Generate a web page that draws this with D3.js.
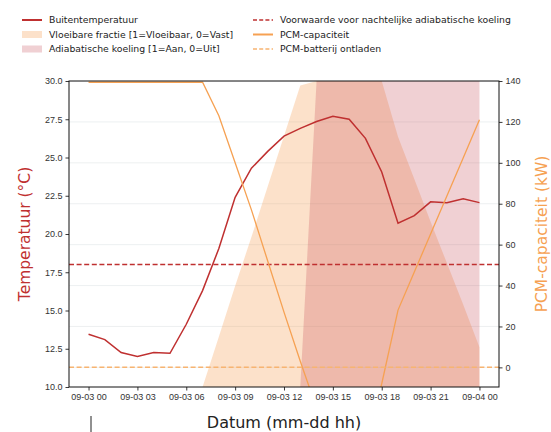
<!DOCTYPE html>
<html>
<head>
<meta charset="utf-8">
<script src="https://cdn.jsdelivr.net/npm/d3@7"></script>
<style>
  body { margin: 0; background: #fff; }
  svg { font-family: "DejaVu Sans", sans-serif; }
</style>
</head>
<body>
<svg class="chart"></svg>
<script>
// hourly data, 09-03 00 .. 09-04 00
var hours = d3.range(0, 25)
var temp = [13.45, 13.1, 12.25, 12.0, 12.25, 12.2, 14.1, 16.3, 19.05, 22.4, 24.3, 25.4, 26.4,
            26.9, 27.35, 27.7, 27.5, 26.25, 24.05, 20.7, 21.2, 22.1, 22.05, 22.3, 22.05]
var pcm = [139.4, 139.4, 139.4, 139.4, 139.4, 139.4, 139.4, 139.4, 123, 100, 77, 52, 27,
           3, -20, -40, -40, -40, -8, 28, 46.6, 65.2, 83.8, 102.4, 121]
var liquid = [0, 0, 0, 0, 0, 0, 0, 0, 0.164, 0.33, 0.49, 0.655, 0.82,
              0.985, 1, 1, 1, 1, 1, 0.818, 0.68, 0.54, 0.405, 0.27, 0.13]
var adiabatic = [0, 0, 0, 0, 0, 0, 0, 0, 0, 0, 0, 0, 0,
                 0, 1, 1, 1, 1, 1, 1, 1, 1, 1, 1, 1]
var tempLimit = 18
var pcmEmpty = 0
var xTicks = [0, 3, 6, 9, 12, 15, 18, 21, 24]
var xTickLabels = ["09-03 00", "09-03 03", "09-03 06", "09-03 09", "09-03 12",
                   "09-03 15", "09-03 18", "09-03 21", "09-04 00"]
var leftTicks = [10, 12.5, 15, 17.5, 20, 22.5, 25, 27.5, 30]
var rightTicks = [0, 20, 40, 60, 80, 100, 120, 140]

var red = "#bf3030", orange = "#f6a152"

var margin = {top: 81, right: 52, bottom: 45, left: 69},
    width  = 551 - margin.left - margin.right,
    height = 432 - margin.top - margin.bottom

var chart = d3.select(".chart").attr("width", 551).attr("height", 432)

var x  = d3.scaleLinear().domain([-1.2, 25.2]).range([0, width])
var yL = d3.scaleLinear().domain([10, 30]).range([height, 0])
var yR = d3.scaleLinear().domain([-9.6, 140]).range([height, 0])
var yF = d3.scaleLinear().domain([0, 1]).range([height, 0])

chart.append("defs").append("clipPath").attr("id", "clip")
  .append("rect").attr("width", width).attr("height", height)

var g = chart.append("g").attr("transform", "translate(" + margin.left + "," + margin.top + ")")
var plot = g.append("g").attr("clip-path", "url(#clip)")

// grid on right-axis ticks
plot.selectAll(".grid").data(rightTicks).enter().append("line")
  .attr("x1", 0).attr("x2", width)
  .attr("y1", function(d) { return yR(d) }).attr("y2", function(d) { return yR(d) })
  .attr("stroke", "#e9ecee").attr("stroke-width", 0.8)

// filled areas
plot.append("path").datum(hours)
  .attr("fill", "#f5a15a").attr("fill-opacity", 0.32)
  .attr("d", d3.area().x(function(d) { return x(d) })
    .y0(yF(0)).y1(function(d, i) { return yF(liquid[i]) }))

plot.append("path").datum(hours)
  .attr("fill", "#c4424f").attr("fill-opacity", 0.25)
  .attr("d", d3.area().x(function(d) { return x(d) })
    .y0(yF(0)).y1(function(d, i) { return yF(adiabatic[i]) }))

// temperature
plot.append("path").datum(hours)
  .attr("fill", "none").attr("stroke", red).attr("stroke-width", 1.5)
  .attr("d", d3.line().x(function(d) { return x(d) }).y(function(d, i) { return yL(temp[i]) }))

plot.append("line")
  .attr("x1", 0).attr("x2", width).attr("y1", yL(tempLimit)).attr("y2", yL(tempLimit))
  .attr("stroke", red).attr("stroke-width", 1.5).attr("stroke-dasharray", "5,2.6")

// pcm
plot.append("path").datum(hours)
  .attr("fill", "none").attr("stroke", orange).attr("stroke-width", 1.3)
  .attr("d", d3.line().x(function(d) { return x(d) }).y(function(d, i) { return yR(pcm[i]) }))

plot.append("line")
  .attr("x1", 0).attr("x2", width).attr("y1", yR(pcmEmpty)).attr("y2", yR(pcmEmpty))
  .attr("stroke", "#f7b471").attr("stroke-width", 1.5).attr("stroke-dasharray", "5,2.6")

// axes
function styleAxis(sel) {
  sel.select(".domain").remove()
  sel.selectAll(".tick line").attr("stroke", "#222").attr("stroke-width", 0.9)
  sel.selectAll(".tick text").attr("fill", "#333").style("font-size", "9px")
}

g.append("g").attr("transform", "translate(0," + height + ")")
  .call(d3.axisBottom(x).tickValues(xTicks).tickSize(3.5).tickPadding(3)
    .tickFormat(function(d, i) { return xTickLabels[i] }))
  .call(styleAxis)

g.append("g")
  .call(d3.axisLeft(yL).tickValues(leftTicks).tickSize(3.5).tickPadding(3).tickFormat(d3.format(".1f")))
  .call(styleAxis)

g.append("g").attr("transform", "translate(" + width + ",0)")
  .call(d3.axisRight(yR).tickValues(rightTicks).tickSize(3.5).tickPadding(3).tickFormat(d3.format("d")))
  .call(styleAxis)

g.append("rect").attr("width", width).attr("height", height)
  .attr("fill", "none").attr("stroke", "#111").attr("stroke-width", 1)

// axis titles
g.append("text").attr("transform", "translate(-39," + (height / 2) + ") rotate(-90)")
  .attr("text-anchor", "middle").attr("fill", red).style("font-size", "15.5px")
  .text("Temperatuur (°C)")

g.append("text").attr("transform", "translate(" + (width + 48) + "," + (height / 2) + ") rotate(-90)")
  .attr("text-anchor", "middle").attr("fill", orange).style("font-size", "15.5px")
  .text("PCM-capaciteit (kW)")

g.append("text").attr("x", width / 2).attr("y", height + 41)
  .attr("text-anchor", "middle").attr("fill", "#222").style("font-size", "16px")
  .text("Datum (mm-dd hh)")

chart.append("line").attr("x1", 91).attr("x2", 91).attr("y1", 416).attr("y2", 432)
  .attr("stroke", "#222").attr("stroke-width", 1)

// legend
var legendItems = [
  {label: "Buitentemperatuur", type: "line", color: red, col: 0, row: 0},
  {label: "Vloeibare fractie [1=Vloeibaar, 0=Vast]", type: "patch", color: "#f5a15a", op: 0.32, col: 0, row: 1},
  {label: "Adiabatische koeling [1=Aan, 0=Uit]", type: "patch", color: "#c4424f", op: 0.25, col: 0, row: 2},
  {label: "Voorwaarde voor nachtelijke adiabatische koeling", type: "dash", color: red, col: 1, row: 0},
  {label: "PCM-capaciteit", type: "line", color: orange, col: 1, row: 1},
  {label: "PCM-batterij ontladen", type: "dash", color: "#f7b471", col: 1, row: 2}
]
var colX = [22, 253], rowY = [20, 34.5, 49]

var item = chart.selectAll(".legend").data(legendItems).enter().append("g")
  .attr("transform", function(d) { return "translate(" + colX[d.col] + "," + rowY[d.row] + ")" })

item.each(function(d) {
  var s = d3.select(this)
  if (d.type == "patch") {
    s.append("rect").attr("x", 0).attr("y", -3.5).attr("width", 20).attr("height", 7)
      .attr("fill", d.color).attr("fill-opacity", d.op)
  } else {
    s.append("line").attr("x1", 0).attr("x2", 20).attr("y1", 0).attr("y2", 0)
      .attr("stroke", d.color).attr("stroke-width", d.type == "line" ? 2 : 1.5)
      .attr("stroke-dasharray", d.type == "dash" ? "4,2.2" : null)
  }
  s.append("text").attr("x", 27).attr("y", 0).attr("dy", "0.35em")
    .attr("fill", "#222").style("font-size", "9.3px").text(d.label)
})
</script>
</body>
</html>
